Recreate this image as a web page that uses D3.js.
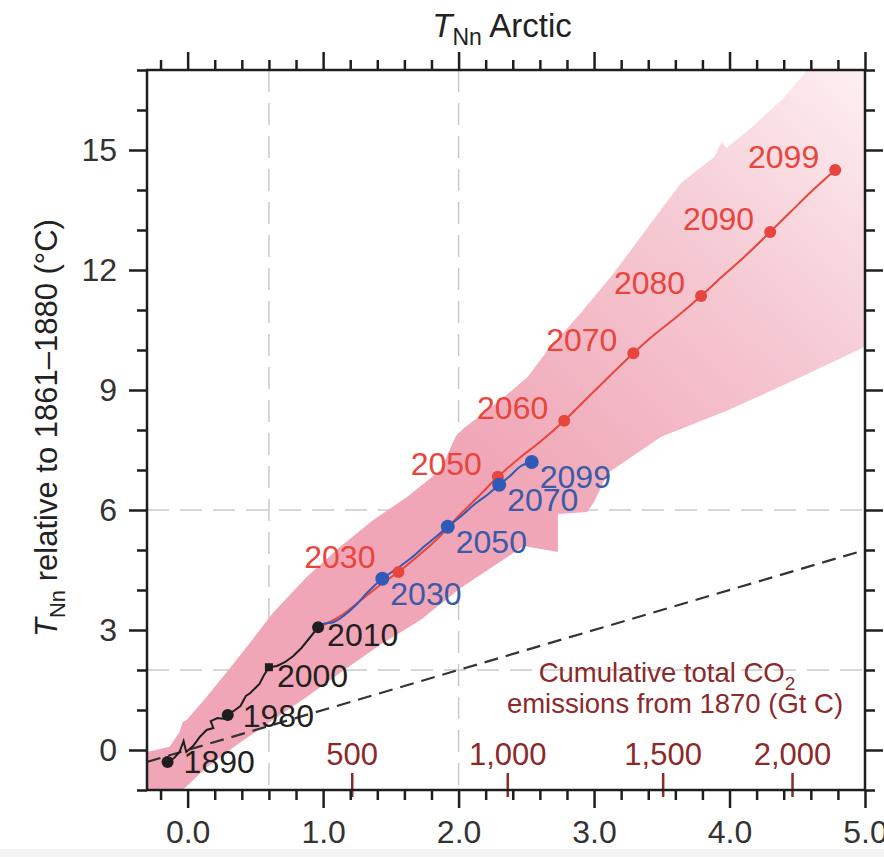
<!DOCTYPE html>
<html>
<head>
<meta charset="utf-8">
<script src="https://cdn.jsdelivr.net/npm/d3@7"></script>
<style>
  html, body { margin: 0; padding: 0; background: #fff; }
  svg { display: block; font-family: "Liberation Sans", Arial, Helvetica, sans-serif; }
</style>
</head>
<body>
<svg id="chart" width="884" height="857"></svg>
<script>
// ---------------- data ----------------
const xDomain = [-0.3, 5.0];
const yDomain = [-1, 17];
const xMajorTicks = [0, 1, 2, 3, 4, 5];
const xTickLabels = ["0.0", "1.0", "2.0", "3.0", "4.0", "5.0"];
const xMinorTicks = [-0.2, 0.2, 0.4, 0.6, 0.8, 1.2, 1.4, 1.6, 1.8, 2.2, 2.4, 2.6, 2.8, 3.2, 3.4, 3.6, 3.8, 4.2, 4.4, 4.6, 4.8];
const yMajorTicks = [0, 3, 6, 9, 12, 15];
const yMinorTicks = [-1, 1, 2, 4, 5, 7, 8, 10, 11, 13, 14, 16, 17];
const gridX = [0.6, 2.0];
const gridY = [2, 6];
const refLineX = [-0.3, 5.0];
const refLineY = [-0.3, 5.0];

// cumulative emissions secondary scale
const emissionLabels = ["500", "1,000", "1,500", "2,000"];
const emissionPos = [1.215, 2.363, 3.51, 4.465];

// historical (black)
const histX = [-0.148, -0.1, -0.06, -0.03, -0.01, 0.04, 0.09, 0.14, 0.19, 0.17, 0.22, 0.26, 0.296, 0.35, 0.39, 0.43, 0.46, 0.5, 0.53, 0.56, 0.6, 0.66, 0.72, 0.78, 0.84, 0.9, 0.963];
const histY = [-0.3, -0.2, -0.05, 0.22, -0.05, 0.1, 0.33, 0.5, 0.55, 0.72, 0.8, 0.78, 0.875, 1.0, 1.1, 1.35, 1.42, 1.55, 1.65, 1.85, 2.07, 2.1, 2.2, 2.35, 2.55, 2.8, 3.07];
const histMarkYears = ["1890", "1980", "2000", "2010"];
const histMarkX = [-0.148, 0.296, 0.6, 0.963];
const histMarkY = [-0.3, 0.875, 2.07, 3.07];

// RCP8.5 (red)
const rcp85X = [0.963, 1.05, 1.15, 1.3, 1.45, 1.556, 1.7, 1.85, 2.0, 2.15, 2.29, 2.45, 2.6, 2.78, 2.95, 3.1, 3.29, 3.45, 3.6, 3.79, 3.95, 4.1, 4.3, 4.45, 4.6, 4.78];
const rcp85Y = [3.07, 3.2, 3.4, 3.8, 4.2, 4.45, 4.85, 5.3, 5.85, 6.35, 6.83, 7.3, 7.7, 8.23, 8.8, 9.3, 9.92, 10.4, 10.8, 11.35, 11.85, 12.3, 12.95, 13.45, 13.95, 14.5];
const rcp85MarkYears = ["2030", "2050", "2060", "2070", "2080", "2090", "2099"];
const rcp85MarkX = [1.556, 2.29, 2.78, 3.29, 3.79, 4.3, 4.78];
const rcp85MarkY = [4.45, 6.83, 8.23, 9.92, 11.35, 12.95, 14.5];

// RCP2.6 (blue)
const rcp26X = [0.963, 1.0, 1.08, 1.15, 1.25, 1.33, 1.437, 1.55, 1.65, 1.75, 1.84, 1.92, 2.02, 2.12, 2.22, 2.3, 2.38, 2.46, 2.54];
const rcp26Y = [3.07, 3.15, 3.2, 3.35, 3.65, 3.95, 4.28, 4.55, 4.8, 5.1, 5.35, 5.58, 5.85, 6.15, 6.4, 6.63, 6.85, 7.1, 7.2];
const rcp26MarkYears = ["2030", "2050", "2070", "2099"];
const rcp26MarkX = [1.437, 1.92, 2.3, 2.54];
const rcp26MarkY = [4.28, 5.58, 6.63, 7.2];

// uncertainty envelope
const bandUpperX = [-0.3, -0.133, -0.06, -0.037, -0.007, 0.141, 0.289, 0.437, 0.63, 0.881, 1.126, 1.37, 1.622, 1.867, 1.98, 2.04, 2.31, 2.511, 2.659, 2.904, 3.148, 3.4, 3.644, 3.889, 3.941, 3.978, 4.141, 4.385, 4.556, 4.75, 5.0];
const bandUpperY = [-0.05, 0.08, 0.45, 0.7, 0.75, 1.33, 1.95, 2.58, 3.43, 4.33, 5.08, 5.75, 6.33, 7.0, 7.85, 8.05, 8.75, 9.33, 10.0, 10.93, 11.93, 13.08, 14.18, 14.83, 15.2, 15.05, 15.5, 16.25, 16.93, 17.8, 17.8];
const bandLowerX = [5.0, 4.481, 3.993, 3.496, 3.104, 3.0, 2.95, 2.733, 2.733, 2.481, 2.015, 1.719, 1.422, 1.126, 0.881, 0.63, 0.385, 0.141, -0.037, -0.133, -0.3];
const bandLowerY = [10.08, 9.25, 8.5, 7.83, 6.93, 6.2, 5.95, 5.9, 4.95, 5.1, 4.05, 3.25, 2.63, 1.93, 1.33, 0.75, 0.18, -0.43, -1.0, -1.3, -1.3];

// ---------------- layout ----------------
const svg = d3.select("#chart");
const W = 884, H = 857;
const plot = { left: 147, right: 865, top: 70, bottom: 790 };
const x = d3.scaleLinear().domain(xDomain).range([plot.left, plot.right]);
const y = d3.scaleLinear().domain(yDomain).range([plot.bottom, plot.top]);

const RED = "#e8453c", BLUE = "#2f5bb7", BLUE_TXT = "#3b5aa8", BLACK = "#1e1e1e", EMIS = "#8c2a2a";
const FONT_LBL = 32;

svg.append("rect").attr("x", 0).attr("y", 849).attr("width", W).attr("height", H - 849).attr("fill", "#f3f3f3");

const defs = svg.append("defs");
defs.append("clipPath").attr("id", "plotclip")
  .append("rect").attr("x", plot.left).attr("y", plot.top)
  .attr("width", plot.right - plot.left).attr("height", plot.bottom - plot.top);

const grad = defs.append("linearGradient").attr("id", "bandgrad")
  .attr("gradientUnits", "userSpaceOnUse")
  .attr("x1", x(2.2)).attr("y1", y(7)).attr("x2", x(4.9)).attr("y2", y(17));
grad.append("stop").attr("offset", 0).attr("stop-color", "#f0a6b6");
grad.append("stop").attr("offset", 0.55).attr("stop-color", "#f5c8d2");
grad.append("stop").attr("offset", 1).attr("stop-color", "#fdeef1");

const inner = svg.append("g").attr("clip-path", "url(#plotclip)");

// grid lines
inner.selectAll(".gx").data(gridX).enter().append("line")
  .attr("x1", d => x(d)).attr("x2", d => x(d)).attr("y1", plot.top).attr("y2", plot.bottom)
  .attr("stroke", "#c9c9c9").attr("stroke-width", 1.5).attr("stroke-dasharray", "22,11");
inner.selectAll(".gy").data(gridY).enter().append("line")
  .attr("y1", d => y(d)).attr("y2", d => y(d)).attr("x1", plot.left).attr("x2", plot.right)
  .attr("stroke", "#c9c9c9").attr("stroke-width", 1.5).attr("stroke-dasharray", "22,11");

// band
const bandPts = bandUpperX.map((v, i) => [v, bandUpperY[i]])
  .concat(bandLowerX.map((v, i) => [v, bandLowerY[i]]));
inner.append("path")
  .attr("d", d3.line().x(d => x(d[0])).y(d => y(d[1]))(bandPts) + "Z")
  .attr("fill", "url(#bandgrad)");

// reference dashed line
inner.append("line")
  .attr("x1", x(refLineX[0])).attr("y1", y(refLineY[0]))
  .attr("x2", x(refLineX[1])).attr("y2", y(refLineY[1]))
  .attr("stroke", "#333").attr("stroke-width", 2.2).attr("stroke-dasharray", "14,8");

// emission axis
emissionPos.forEach((p, i) => {
  svg.append("line").attr("x1", x(p)).attr("x2", x(p)).attr("y1", plot.bottom - 17).attr("y2", plot.bottom + 7)
    .attr("stroke", EMIS).attr("stroke-width", 2.5);
  svg.append("text").attr("x", x(p)).attr("y", plot.bottom - 25).attr("text-anchor", "middle")
    .attr("font-size", 31).attr("fill", EMIS).text(emissionLabels[i]);
});
const et = svg.append("text").attr("text-anchor", "middle").attr("font-size", 27.5).attr("fill", EMIS);
et.append("tspan").attr("x", 667).attr("y", 682).text("Cumulative total CO");
et.append("tspan").attr("dy", 8).attr("font-size", 19).text("2");
svg.append("text").attr("text-anchor", "middle").attr("font-size", 27.5).attr("fill", EMIS)
  .attr("x", 675).attr("y", 713).text("emissions from 1870 (Gt C)");

// lines
const lineGen = d3.line().x(d => x(d[0])).y(d => y(d[1])).curve(d3.curveCatmullRom.alpha(0.5));
inner.append("path").attr("d", lineGen(rcp85X.map((v, i) => [v, rcp85Y[i]])))
  .attr("fill", "none").attr("stroke", RED).attr("stroke-width", 2);
inner.append("path").attr("d", lineGen(rcp26X.map((v, i) => [v, rcp26Y[i]])))
  .attr("fill", "none").attr("stroke", BLUE).attr("stroke-width", 2);
inner.append("path").attr("d", d3.line().x(d => x(d[0])).y(d => y(d[1]))(histX.map((v, i) => [v, histY[i]])))
  .attr("fill", "none").attr("stroke", BLACK).attr("stroke-width", 2);

// markers and labels
rcp85MarkX.forEach((v, i) => {
  inner.append("circle").attr("cx", x(v)).attr("cy", y(rcp85MarkY[i])).attr("r", 6).attr("fill", RED);
  const first = i === 0;
  svg.append("text").attr("x", x(v) + (first ? -23 : -16)).attr("y", y(rcp85MarkY[i]) + (first ? -4 : -2))
    .attr("text-anchor", "end").attr("font-size", FONT_LBL).attr("fill", RED).text(rcp85MarkYears[i]);
});
rcp26MarkX.forEach((v, i) => {
  inner.append("circle").attr("cx", x(v)).attr("cy", y(rcp26MarkY[i])).attr("r", 7).attr("fill", BLUE);
  svg.append("text").attr("x", x(v) + 8).attr("y", y(rcp26MarkY[i]) + 26)
    .attr("text-anchor", "start").attr("font-size", FONT_LBL).attr("fill", BLUE_TXT).text(rcp26MarkYears[i]);
});
const histDx = [16, 15, 8, 9], histDy = [11, 12, 20, 19];
histMarkX.forEach((v, i) => {
  if (histMarkYears[i] === "2000") {
    inner.append("rect").attr("x", x(v) - 4).attr("y", y(histMarkY[i]) - 4).attr("width", 8).attr("height", 8)
      .attr("fill", BLACK);
  } else {
    inner.append("circle").attr("cx", x(v)).attr("cy", y(histMarkY[i])).attr("r", 6).attr("fill", BLACK);
  }
  svg.append("text").attr("x", x(v) + histDx[i]).attr("y", y(histMarkY[i]) + histDy[i])
    .attr("text-anchor", "start").attr("font-size", FONT_LBL).attr("fill", "#231f20").text(histMarkYears[i]);
});

// ---------------- axes ----------------
function styleAxis(g) {
  g.select(".domain").remove();
  g.selectAll(".tick line").attr("stroke", BLACK).attr("stroke-width", 2.5);
  g.selectAll(".tick text").attr("font-size", 32).attr("fill", "#333")
    .attr("font-family", "'Liberation Sans', Arial, Helvetica, sans-serif");
}
const MAJ = 18, MIN = 10;
// bottom
svg.append("g").attr("transform", `translate(0,${plot.bottom})`)
  .call(d3.axisBottom(x).tickValues(xMajorTicks).tickSize(MAJ).tickPadding(12)
    .tickFormat((d, i) => xTickLabels[i])).call(styleAxis);
svg.append("g").attr("transform", `translate(0,${plot.bottom})`)
  .call(d3.axisBottom(x).tickValues(xMinorTicks).tickSize(MIN).tickFormat("")).call(styleAxis);
// top
svg.append("g").attr("transform", `translate(0,${plot.top})`)
  .call(d3.axisTop(x).tickValues(xMajorTicks).tickSize(MAJ).tickFormat("")).call(styleAxis);
svg.append("g").attr("transform", `translate(0,${plot.top})`)
  .call(d3.axisTop(x).tickValues(xMinorTicks).tickSize(MIN).tickFormat("")).call(styleAxis);
// left
svg.append("g").attr("transform", `translate(${plot.left},0)`)
  .call(d3.axisLeft(y).tickValues(yMajorTicks).tickSize(MAJ).tickPadding(12)).call(styleAxis);
svg.append("g").attr("transform", `translate(${plot.left},0)`)
  .call(d3.axisLeft(y).tickValues(yMinorTicks).tickSize(MIN).tickFormat("")).call(styleAxis);
// right
svg.append("g").attr("transform", `translate(${plot.right},0)`)
  .call(d3.axisRight(y).tickValues(yMajorTicks).tickSize(MAJ).tickFormat("")).call(styleAxis);
svg.append("g").attr("transform", `translate(${plot.right},0)`)
  .call(d3.axisRight(y).tickValues(yMinorTicks).tickSize(MIN).tickFormat("")).call(styleAxis);

// frame
svg.append("rect").attr("x", plot.left).attr("y", plot.top)
  .attr("width", plot.right - plot.left).attr("height", plot.bottom - plot.top)
  .attr("fill", "none").attr("stroke", BLACK).attr("stroke-width", 2.5);

// title
const title = svg.append("text").attr("x", 502).attr("y", 37).attr("text-anchor", "middle")
  .attr("font-size", 33).attr("fill", "#222");
title.append("tspan").attr("font-style", "italic").text("T");
title.append("tspan").attr("dy", 8).attr("font-size", 23).text("Nn");
title.append("tspan").attr("dy", -8).text(" Arctic");

// y label
const yl = svg.append("text").attr("transform", `translate(57,428) rotate(-90)`)
  .attr("text-anchor", "middle").attr("font-size", 31).attr("fill", "#222");
yl.append("tspan").attr("font-style", "italic").text("T");
yl.append("tspan").attr("dy", 8).attr("font-size", 22).text("Nn");
yl.append("tspan").attr("dy", -8).text(" relative to 1861–1880 (°C)");
</script>
</body>
</html>
